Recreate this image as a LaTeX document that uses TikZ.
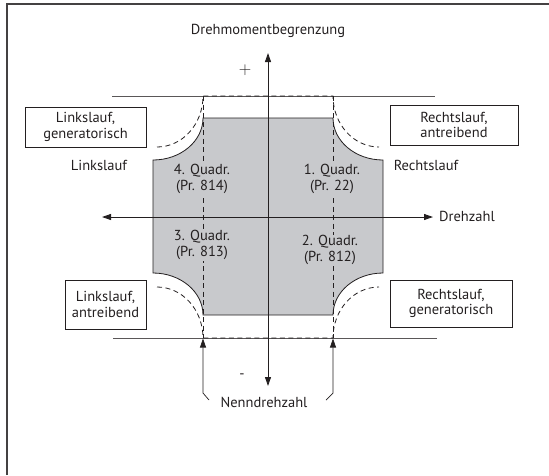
\documentclass[tikz,border=0pt]{standalone}
\usepackage{fontspec}
\setmainfont{PT Sans}
\usetikzlibrary{arrows.meta,positioning}
\definecolor{ink}{HTML}{231F20}
\definecolor{quad}{RGB}{200,201,204}

\begin{document}
\begin{tikzpicture}[
  x=1pt, y=-1pt,
  font=\fontsize{14.5}{15.5}\selectfont,
  every node/.style={text=ink},
  box/.style={draw=ink, line width=0.8pt, align=center, inner sep=0pt},
  lbl/.style={align=center, inner sep=1pt},
  qlbl/.style={align=center, inner sep=1pt, fill=quad},
  axis/.style={{Triangle[length=9pt,width=6pt]}-{Triangle[length=9pt,width=6pt]}, line width=0.9pt, ink},
  arr/.style={-{Triangle[length=9pt,width=6pt]}, line width=0.7pt, ink},
  limit/.style={line width=0.7pt, ink!75},
  speed/.style={dash pattern=on 5pt off 3.5pt, line width=0.8pt, ink}
]
\useasboundingbox (0,0) rectangle (549,475);
\draw[ink!85, line width=1.4pt] (7,475) -- (7,4) -- (549,4);

% operating area
\filldraw[fill=quad, draw=ink, line width=0.8pt]
  (203,118) -- (333,118) .. controls (333,141.2) and (355.4,160) .. (383,160)
  -- (383,273) .. controls (355.4,273) and (333,291.8) .. (333,315)
  -- (203,315) .. controls (203,291.8) and (180.6,273) .. (153,273)
  -- (153,160) .. controls (180.6,160) and (203,141.2) .. (203,118) -- cycle;

% limits
\coordinate (limTL) at (112,96);
\coordinate (limTR) at (435,96);
\coordinate (limBL) at (113,338);
\coordinate (limBR) at (437,338);
\draw[limit] (limTL) -- (limTR);
\draw[limit] (limBL) -- (limBR);

\draw[speed] (157,147) .. controls (182.4,147) and (203,124.2) .. (203,96)
  -- (333,96) .. controls (333,124.2) and (353.6,147) .. (379,147);
\draw[speed] (157,287) .. controls (182.4,287) and (203,309.8) .. (203,338)
  -- (333,338) .. controls (333,309.8) and (353.6,287) .. (379,287);
\draw[speed] (203,96) -- (203,338);
\draw[speed] (333,96) -- (333,338);

% axes
\node[lbl] (moment) at (268,31) {Drehmomentbegrenzung};
\node[lbl, font=\fontsize{17}{17}\selectfont] (plus) at (245,70) {\(+\)};
\node[lbl] (minus) at (242,376) {-};
\node[lbl, anchor=west] (drehzahl) at (438,216) {Drehzahl};
\coordinate (yTop) at (268,53);
\coordinate (yBot) at (268,386);
\coordinate (xLeft) at (102,217);
\coordinate (xRight) at (433,217);
\draw[axis] (yBot) -- (yTop);
\draw[axis] (xLeft) -- (xRight);

% quadrants
\node[qlbl] (q4) at (202,179) {4. Quadr.\\(Pr. 814)};
\node[qlbl] (q1) at (332,179) {1. Quadr.\\(Pr. 22)};
\node[qlbl] (q3) at (202,245) {3. Quadr.\\(Pr. 813)};
\node[qlbl] (q2) at (330,250) {2. Quadr.\\(Pr. 812)};

% operating modes
\node[box, minimum width=121pt, minimum height=40pt] (lgen) at (85.5,127) {Linkslauf,\\generatorisch};
\node[box, minimum width=128pt, minimum height=40pt] (rdrv) at (454,125) {Rechtslauf,\\antreibend};
\node[box, minimum width=81pt, minimum height=49pt] (ldrv) at (105.5,304.5) {Linkslauf,\\antreibend};
\node[box, minimum width=122pt, minimum height=47pt] (rgen) at (451,303.5) {Rechtslauf,\\generatorisch};
\node[lbl] (links) at (99,165) {Linkslauf};
\node[lbl] (rechts) at (426,165) {Rechtslauf};

% rated speed
\node[lbl] (nenn) at (264,402) {Nenndrehzahl};
\coordinate (nennL) at (209,400);
\coordinate (nennLk) at (203,393);
\coordinate (nennLt) at (203,338.5);
\coordinate (nennR) at (326,400);
\coordinate (nennRk) at (333,393);
\coordinate (nennRt) at (333,338.5);
\draw[arr] (nennL) -- (nennLk) -- (nennLt);
\draw[arr] (nennR) -- (nennRk) -- (nennRt);
\end{tikzpicture}
\end{document}
